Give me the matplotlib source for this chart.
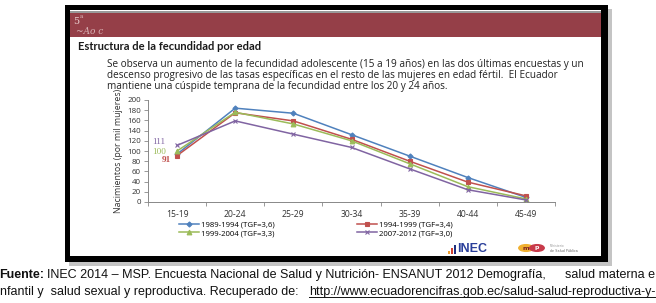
import matplotlib
matplotlib.use("Agg")
import matplotlib.pyplot as plt
from matplotlib.patches import Rectangle, Circle
from matplotlib.lines import Line2D

# ---- data ----
age_groups = ["15-19", "20-24", "25-29", "30-34", "35-39", "40-44", "45-49"]
s_1989 = [94, 184, 174, 132, 90, 48, 9]
s_1994 = [91, 175, 159, 123, 80, 39, 12]
s_1999 = [100, 176, 153, 120, 75, 30, 6]
s_2007 = [111, 159, 133, 107, 65, 24, 4]
series_names = ["1989-1994 (TGF=3,6)", "1994-1999 (TGF=3,4)",
                "1999-2004 (TGF=3,3)", "2007-2012 (TGF=3,0)"]
y_ticks = list(range(0, 201, 20))

W, H = 656, 303
fig = plt.figure(figsize=(W / 100, H / 100), dpi=100)
fig.patch.set_facecolor("white")


def fx(x):
    return x / W


def fy(y):
    return 1 - y / H


def rect(x0, y0, x1, y1, **kw):
    fig.add_artist(Rectangle((fx(x0), fy(y1)), fx(x1) - fx(x0), fy(y0) - fy(y1),
                             transform=fig.transFigure, **kw))


# shadow and black frame
rect(69, 9, 612, 266, facecolor="#c4c4c4", edgecolor="none", zorder=0)
rect(65, 5, 608, 262, facecolor="black", edgecolor="none", zorder=0.1)
rect(70, 10, 601, 256, facecolor="white", edgecolor="none", zorder=0.2)
# banner
rect(70, 11, 601, 13, facecolor="#9a9a9a", edgecolor="none", zorder=0.3)
rect(70, 13, 601, 37, facecolor="#953f48", edgecolor="none", zorder=0.3)
fig.text(fx(73), fy(21), "5", color="#f4dede", fontsize=7, ha="left", va="center",
         family="DejaVu Serif", zorder=1, alpha=0.9)
fig.text(fx(80), fy(17), "a", color="#f4dede", fontsize=4, ha="left", va="center",
         family="DejaVu Serif", zorder=1, alpha=0.8)
fig.text(fx(76), fy(31), "~Ao c", color="#f0dada", fontsize=6.5, ha="left", va="center",
         family="DejaVu Serif", style="italic", zorder=1, alpha=0.75)

# title and paragraph
fig.text(fx(78), fy(46), "Estructura de la fecundidad por edad", fontsize=8.0,
         fontweight="bold", family="Lato", ha="left", va="center", color="#1a1a1a")
para = ["Se observa un aumento de la fecundidad adolescente (15 a 19 años) en las dos últimas encuestas y un",
        "descenso progresivo de las tasas específicas en el resto de las mujeres en edad fértil.  El Ecuador",
        "mantiene una cúspide temprana de la fecundidad entre los 20 y 24 años."]
for i, line in enumerate(para):
    fig.text(fx(107), fy(64 + 11.5 * i), line, fontsize=7.2, family="Open Sans",
             ha="left", va="center", color="#222222")

# ---- chart ----
ax = fig.add_axes([fx(148), fy(202), fx(555) - fx(148), fy(100) - fy(202)])
ax.set_zorder(2)
ax.patch.set_alpha(0)
x = list(range(len(age_groups)))
styles = [
    (s_1989, "#4f81bd", "D", 2.6),
    (s_1994, "#c0504d", "s", 3.2),
    (s_1999, "#9bbb59", "^", 3.4),
    (s_2007, "#8064a2", "x", 3.2),
]
handles = []
for (vals, col, mk, ms), name in zip(styles, series_names):
    h, = ax.plot(x, vals, color=col, marker=mk, markersize=ms, linewidth=1.1,
                 markeredgewidth=0.8, label=name, zorder=3)
    handles.append(h)

ax.set_xlim(-0.5, len(age_groups) - 0.5)
ax.set_ylim(0, 200)
ax.set_yticks(y_ticks)
ax.set_yticklabels([str(v) for v in y_ticks], fontsize=5.8, family="Open Sans",
                   color="#333333")
ax.set_xticks(x)
ax.set_xticklabels(age_groups, fontsize=6.2, family="Open Sans", color="#333333")
ax.set_xticks([i - 0.5 for i in range(len(age_groups) + 1)], minor=True)
ax.tick_params(axis="x", which="major", length=0, pad=6)
ax.tick_params(axis="x", which="minor", length=3, color="#888888", width=0.6)
ax.tick_params(axis="y", length=3, color="#888888", width=0.6, pad=2)
for s in ["top", "right"]:
    ax.spines[s].set_visible(False)
for s in ["left", "bottom"]:
    ax.spines[s].set_color("#888888")
    ax.spines[s].set_linewidth(0.7)
ax.set_ylabel("Nacimientos (por mil mujeres)", fontsize=6.3, family="Open Sans",
              color="#333333", labelpad=3)

# data labels for 15-19
lbl = dict(ha="center", va="center", fontsize=6.6, family="Liberation Serif",
           textcoords="offset points")
ax.annotate(str(s_2007[0]), (0, s_2007[0]), xytext=(-13, 2.6), color="#8064a2", **lbl)
ax.annotate(str(s_1999[0]), (0, s_1999[0]), xytext=(-13, -0.6), color="#9bbb59", **lbl)
ax.annotate(str(s_1994[0]), (0, s_1994[0]), xytext=(-8, -3.4), color="#c0504d",
            fontweight="bold", **lbl)

order = [0, 2, 1, 3]
leg = fig.legend([handles[i] for i in order], [series_names[i] for i in order], ncol=2,
                 loc="center", bbox_to_anchor=(fx(316), fy(229)), frameon=False,
                 prop={"family": "Open Sans", "size": 5.6}, handlelength=2.6,
                 handletextpad=0.2, columnspacing=10.6, labelspacing=0.15)
leg.set_zorder(3)

# logos
for x0, y0, c in [(448, 251, "#f0a030"), (451, 248, "#d04030"), (454, 245, "#203080")]:
    rect(x0, y0, x0 + 2, 254, facecolor=c, edgecolor="none", zorder=3)
fig.text(fx(457), fy(249), "INEC", fontsize=9, family="Liberation Sans", color="#2a3f9a",
         ha="left", va="center", fontweight="bold", zorder=3)
fig.add_artist(Circle((fx(526), fy(248)), 0.011, color="#f0b030",
                      transform=fig.transFigure, zorder=3))
fig.add_artist(Circle((fx(537), fy(248)), 0.011, color="#c83a4a",
                      transform=fig.transFigure, zorder=3))
fig.text(fx(526), fy(248), "m", fontsize=4.5, color="#7a2020", ha="center", va="center",
         fontweight="bold", zorder=4)
fig.text(fx(537), fy(248), "p", fontsize=4.5, color="white", ha="center", va="center",
         fontweight="bold", zorder=4)
fig.text(fx(550), fy(246), "Ministerio", fontsize=2.2, color="#999999", ha="left", va="center",
         zorder=3)
fig.text(fx(550), fy(251), "de Salud Pública", fontsize=2.4, color="#666666", ha="left",
         va="center", zorder=3)

# footer text
fs = 9.0
fig.text(fx(-1), fy(275), "Fuente:", fontsize=fs, family="Liberation Sans",
         fontweight="bold", ha="left", va="center", color="#111111")
fig.text(fx(47), fy(275),
         "INEC 2014 \u2013 MSP. Encuesta Nacional de Salud y Nutrición- ENSANUT 2012 Demografía,",
         fontsize=fs, family="Liberation Sans", ha="left", va="center", color="#111111")
fig.text(fx(655), fy(275), "salud materna e", fontsize=fs, family="Liberation Sans",
         ha="right", va="center", color="#111111")
fig.text(fx(0), fy(292), "nfantil y  salud sexual y reproductiva. Recuperado de:",
         fontsize=fs, family="Liberation Sans", ha="left", va="center", color="#111111")
url = fig.text(fx(655), fy(292), "http://www.ecuadorencifras.gob.ec/salud-salud-reproductiva-y-",
               fontsize=fs, family="Liberation Sans", ha="right", va="center", color="#111111")
fig.canvas.draw()
bb = url.get_window_extent()
fig.add_artist(Line2D([bb.x0 / W, bb.x1 / W], [(bb.y0 + 1.5) / H] * 2, color="#111111",
                      linewidth=0.7, transform=fig.transFigure))

fig.savefig("out.png", dpi=100, facecolor="white")
